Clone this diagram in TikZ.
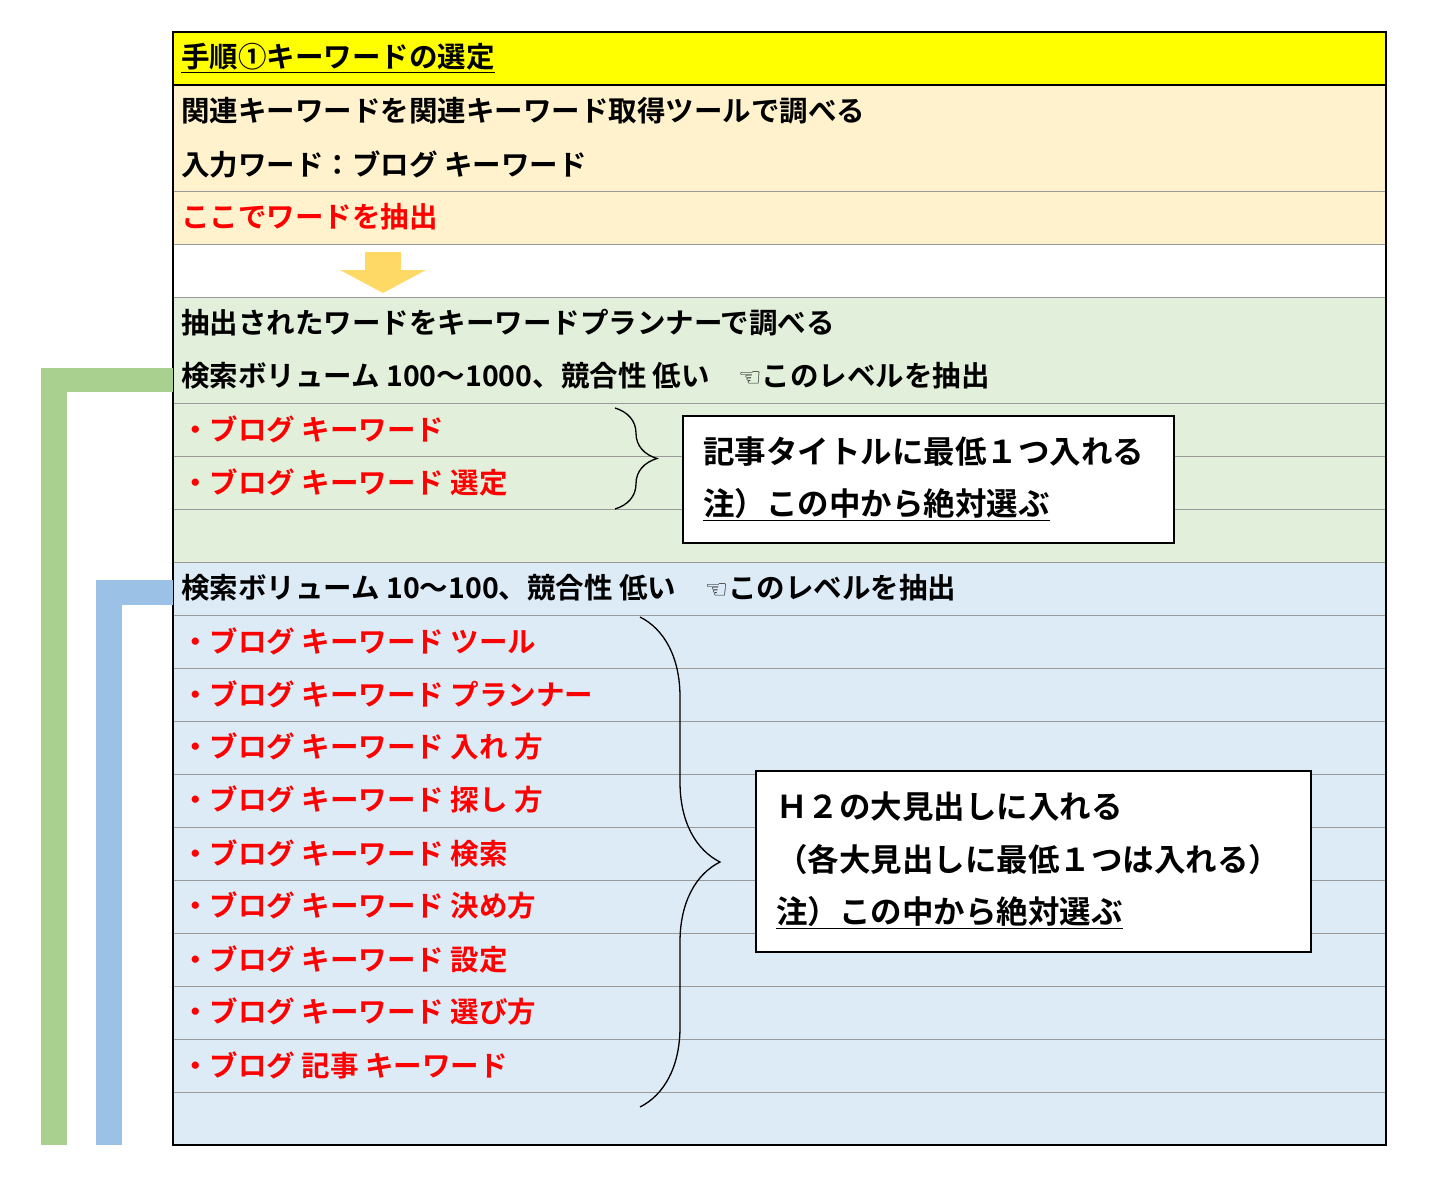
\documentclass[tikz,border=0pt]{standalone}
\usepackage{fontspec}
\setmainfont{Noto Sans CJK JP}[BoldFont={Noto Sans CJK JP Bold}]
\newfontfamily\djv{DejaVu Sans}
\usetikzlibrary{decorations.pathreplacing}
\definecolor{yel}{HTML}{FFFF00}
\definecolor{org}{HTML}{FFF2CC}
\definecolor{grn}{HTML}{E2EFDA}
\definecolor{blu}{HTML}{DDEBF7}
\definecolor{gbar}{HTML}{A9D08E}
\definecolor{bbar}{HTML}{9BC2E6}
\definecolor{arr}{HTML}{FFD966}
\definecolor{red1}{HTML}{FF0000}
\tikzset{
 txt/.style={anchor=west,inner sep=0pt,font=\fontsize{28.5}{28.5}\selectfont\bfseries},
 rtxt/.style={txt,text=red1},
 btxt/.style={anchor=west,inner sep=0pt,font=\fontsize{31.5}{31.5}\selectfont\bfseries},
 grid/.style={draw=black!40,line width=0.8pt},
 box/.style={draw,fill=white,line width=1.2pt}
}
\begin{document}
\begin{tikzpicture}[x=1pt,y=-1pt]
\useasboundingbox (0,0) rectangle (1429,1177);
\fill[yel] (173,32) rectangle (1386,85);
\fill[org] (173,85) rectangle (1386,244);
\fill[grn] (173,297) rectangle (1386,562);
\fill[blu] (173,562) rectangle (1386,1145);
\foreach \y in {191,244,297,403,456,509,562,615,668,721,774,827,880,933,986,1039,1092}
  \draw[grid] (173,\y) -- (1386,\y);
\draw[line width=1.2pt] (173,85) -- (1386,85);
\draw[line width=2pt] (173,32) rectangle (1386,1145);
% bars
\fill[gbar] (41,368) rectangle (67,1145);
\fill[gbar] (41,368) rectangle (173,392);
\fill[bbar] (96,580) rectangle (122,1145);
\fill[bbar] (96,580) rectangle (173,605);
% arrow
\fill[arr] (365,252) -- (401,252) -- (401,270) -- (426,270) -- (383,293) -- (340,270) -- (365,270) -- cycle;
\coordinate (ar) at (383,272);
\node[txt] (t0) at (181,58) {\underline{手順①キーワードの選定}};
\node[txt] (t1) at (181,111) {関連キーワードを関連キーワード取得ツールで調べる};
\node[txt] (t2) at (181,164) {入力ワード：ブログ キーワード};
\node[rtxt] (t3) at (181,217) {ここでワードを抽出};
\node[txt] (t4) at (181,323) {抽出されたワードをキーワードプランナーで調べる};
\node[txt] (t5) at (181,376) {検索ボリューム 100～1000、競合性 低い\quad{\djv\fontsize{26}{26}\selectfont ☜}このレベルを抽出};
\node[rtxt] (g1) at (181,429) {・ブログ キーワード};
\node[rtxt] (g2) at (181,482) {・ブログ キーワード 選定};
\node[txt] (t6) at (181,588) {検索ボリューム 10～100、競合性 低い\quad{\djv\fontsize{26}{26}\selectfont ☜}このレベルを抽出};
\foreach \s [count=\i] in {ツール,プランナー,入れ 方,探し 方,検索,決め方,設定,選び方}
  \node[rtxt] (b\i) at (181,588+53*\i) {・ブログ キーワード \s};
\node[rtxt] (b9) at (181,1065) {・ブログ 記事 キーワード};
\draw[line width=1.3pt,decorate,decoration={brace,amplitude=42pt,aspect=0.5}] (615,408) -- (615,509);
\draw[line width=1.3pt,decorate,decoration={brace,amplitude=80pt}] (640,617) -- (640,1107);
% boxes
\draw[box] (683,416) rectangle (1174,543);
\node[btxt] (x1) at (703,452) {記事タイトルに最低１つ入れる};
\node[btxt] (x2) at (703,505) {\underline{注）この中から絶対選ぶ}};
\draw[box] (756,771) rectangle (1311,952);
\node[btxt] (y1) at (776,807) {Ｈ２の大見出しに入れる};
\node[btxt] (y2) at (776,860) {（各大見出しに最低１つは入れる）};
\node[btxt] (y3) at (776,913) {\underline{注）この中から絶対選ぶ}};
\end{tikzpicture}
\end{document}
